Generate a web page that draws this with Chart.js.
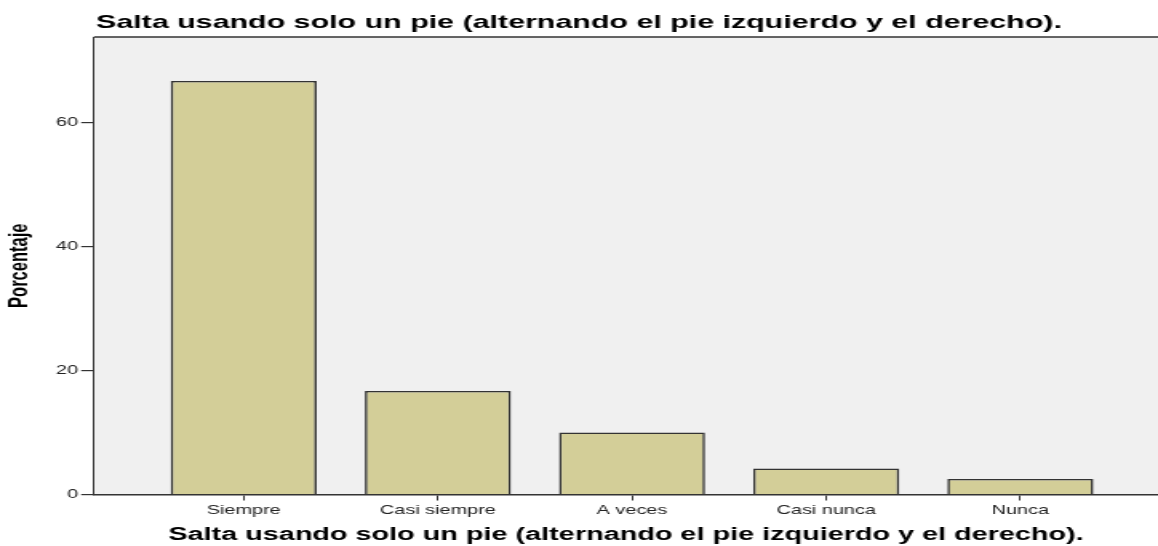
<!DOCTYPE html>
<html>
<head>
<meta charset="utf-8">
<script src="https://cdn.jsdelivr.net/npm/chart.js@4.4.1/dist/chart.umd.min.js"></script>
<style>
  html, body { margin: 0; padding: 0; background: #ffffff; overflow: hidden; }
</style>
</head>
<body>
<canvas id="c" width="724" height="546" style="display:block;width:1158px;height:546px;"></canvas>
<script>
// ---- data ----
const chartTitle = 'Salta usando solo un pie (alternando el pie izquierdo y el derecho).';
const xAxisTitle = 'Salta usando solo un pie (alternando el pie izquierdo y el derecho).';
const yAxisTitle = 'Porcentaje';
const categories = ['Siempre', 'Casi siempre', 'A veces', 'Casi nunca', 'Nunca'];
const percentages = [66.7, 16.7, 10.0, 4.2, 2.5];
const yTickValues = [0, 20, 40, 60];

const FONT = '"Liberation Sans", Arial, Helvetica, sans-serif';

const plotBackground = {
  id: 'plotBackground',
  beforeDraw(chart) {
    const { ctx, chartArea: a } = chart;
    ctx.save();
    ctx.fillStyle = '#ffffff';
    ctx.fillRect(0, 0, chart.width, chart.height);
    ctx.fillStyle = '#f0f0f0';
    ctx.fillRect(a.left, a.top, a.right - a.left, a.bottom - a.top);
    ctx.strokeStyle = '#333333';
    ctx.lineWidth = 1.5;
    ctx.beginPath();
    ctx.moveTo(a.left, a.top);
    ctx.lineTo(a.right, a.top);
    ctx.stroke();
    ctx.restore();
  }
};

new Chart(document.getElementById('c'), {
  type: 'bar',
  data: {
    datasets: [{
      data: percentages.map((v, i) => ({ x: i, y: v })),
      backgroundColor: 'rgb(211,206,152)',
      borderColor: '#333333',
      borderWidth: 1.6,
      categoryPercentage: 1.0,
      barPercentage: 0.752
    }]
  },
  options: {
    responsive: false,
    animation: false,
    devicePixelRatio: 1,
    layout: { padding: { left: 0, right: 0, top: 0, bottom: 0 } },
    plugins: {
      legend: { display: false },
      tooltip: { enabled: false },
      title: {
        display: true,
        text: chartTitle,
        color: '#000000',
        font: { family: FONT, size: 19, weight: 'bold', lineHeight: 1.2 },
        padding: { top: 11.7, bottom: 2.5 }
      }
    },
    scales: {
      x: {
        type: 'linear',
        offset: false,
        min: -0.771,
        max: 4.709,
        afterBuildTicks: (scale) => { scale.ticks = categories.map((_, i) => ({ value: i })); },
        afterFit: (scale) => { scale.height = 51.5; },
        ticks: {
          stepSize: 1,
          includeBounds: false,
          autoSkip: false,
          maxRotation: 0,
          padding: 3,
          color: '#222222',
          font: { family: FONT, size: 12.4 },
          callback: (v) => categories[v] ?? ''
        },
        grid: {
          display: true,
          offset: false,
          drawOnChartArea: false,
          drawTicks: true,
          tickLength: 6,
          color: '#333333',
          lineWidth: 1
        },
        border: { display: true, color: '#333333', width: 1.5 },
        title: {
          display: true,
          text: xAxisTitle,
          color: '#000000',
          font: { family: FONT, size: 18, weight: 'bold', lineHeight: 1.2 },
          padding: { top: 0, bottom: 0 }
        }
      },
      y: {
        min: 0,
        max: 73.8,
        afterBuildTicks: (scale) => { scale.ticks = yTickValues.map(v => ({ value: v })); },
        afterFit: (scale) => { scale.width = 58.77; },
        ticks: {
          stepSize: 20,
          includeBounds: false,
          padding: 2,
          color: '#222222',
          font: { family: FONT, size: 12.4 }
        },
        grid: {
          display: true,
          drawOnChartArea: false,
          drawTicks: true,
          tickLength: 8,
          color: '#333333',
          lineWidth: 1.2
        },
        border: { display: true, color: '#333333', width: 1 },
        title: {
          display: true,
          text: yAxisTitle,
          color: '#000000',
          font: { family: FONT, size: 16.5, weight: 'bold', lineHeight: 1.2 },
          padding: { top: 3, bottom: 0 }
        }
      }
    }
  },
  plugins: [plotBackground]
});
</script>
</body>
</html>
